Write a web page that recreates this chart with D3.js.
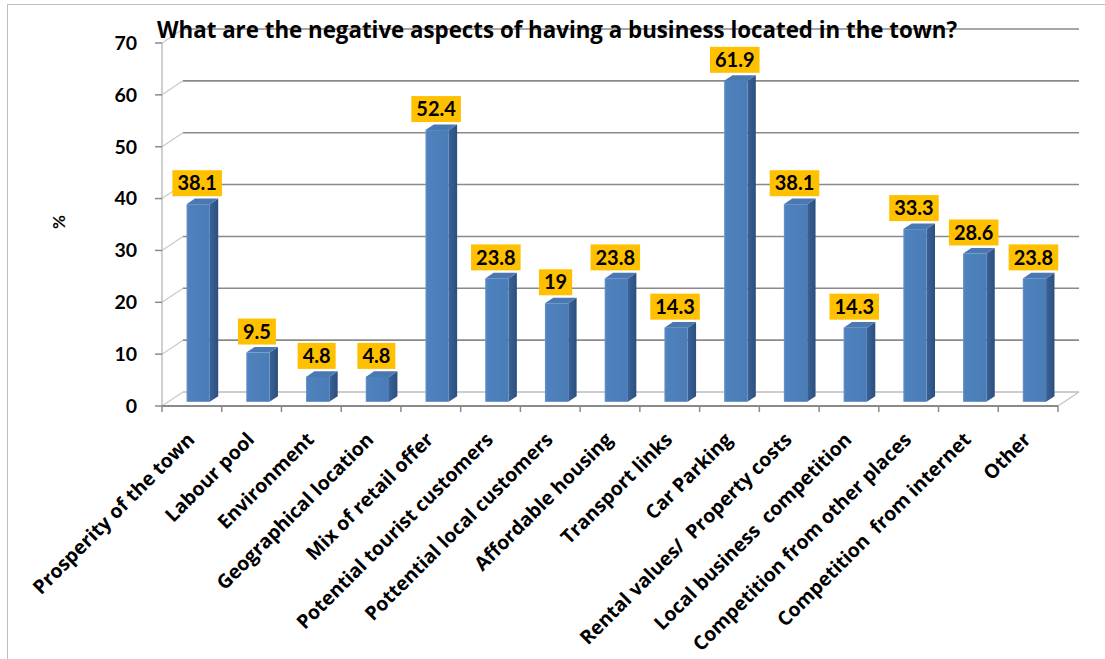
<!DOCTYPE html>
<html>
<head>
<meta charset="utf-8">
<script src="https://cdn.jsdelivr.net/npm/d3@7"></script>
<style>
  html, body { margin: 0; padding: 0; background: #ffffff; }
  svg { display: block; }
  text { font-family: Lato, "Open Sans", "DejaVu Sans", sans-serif; font-weight: bold; fill: #000; }
  text.wide { font-family: "Open Sans", Lato, "DejaVu Sans", sans-serif; }
</style>
</head>
<body>
<svg id="chart" width="1105" height="659"></svg>
<script>
// Survey responses: negative aspects of a town-centre business location (%)
const categories = [
  "Prosperity of the town",
  "Labour pool",
  "Environment",
  "Geographical location",
  "Mix of retail offer",
  "Potential tourist customers",
  "Pottential local customers",
  "Affordable housing",
  "Transport links",
  "Car Parking",
  "Rental values/  Property costs",
  "Local business  competition",
  "Competition from other places",
  "Competition  from internet",
  "Other"
];
const values = [38.1, 9.5, 4.8, 4.8, 52.4, 23.8, 19, 23.8, 14.3, 61.9, 38.1, 14.3, 33.3, 28.6, 23.8];
const yTicks = [0, 10, 20, 30, 40, 50, 60, 70];
const titleText = "What are the negative aspects of having a business located in the town?";
const yAxisTitle = "%";

const svg = d3.select("#chart");

// Plot geometry: front plane of the 3-D box plus the depth offset to the back wall
const front = { left: 162, right: 1058, bottom: 406, top: 43 };
const depth = { dx: 21, dy: -14 };

const x = d3.scaleBand().domain(categories).range([front.left, front.right]).padding(0);
const y = d3.scaleLinear().domain([0, 70]).range([front.bottom, front.top]);

// Outer chart frame
svg.append("rect")
  .attr("x", 7.5).attr("y", 4.5)
  .attr("width", 1110).attr("height", 670)
  .attr("fill", "none").attr("stroke", "#bfbfbf").attr("stroke-width", 1);

const defs = svg.append("defs");
const gFront = defs.append("linearGradient").attr("id", "barFront").attr("x1", 0).attr("x2", 1).attr("y1", 0).attr("y2", 0);
gFront.append("stop").attr("offset", "0%").attr("stop-color", "#6a95cc");
gFront.append("stop").attr("offset", "8%").attr("stop-color", "#4f81bd");
gFront.append("stop").attr("offset", "100%").attr("stop-color", "#4a7cb8");
const gSide = defs.append("linearGradient").attr("id", "barSide").attr("x1", 0).attr("x2", 1).attr("y1", 0).attr("y2", 0);
gSide.append("stop").attr("offset", "0%").attr("stop-color", "#3a6297");
gSide.append("stop").attr("offset", "100%").attr("stop-color", "#2c4f7e");

// Floor
const floor = svg.append("g");
floor.append("path")
  .attr("d", `M${front.left},${front.bottom} L${front.left + depth.dx},${front.bottom + depth.dy} L${front.right + depth.dx},${front.bottom + depth.dy} L${front.right},${front.bottom} Z`)
  .attr("fill", "#ffffff").attr("stroke", "none");

// Back-wall gridlines
const grid = svg.append("g");
grid.selectAll("line.grid")
  .data(yTicks.filter(d => d > 0))
  .join("line")
  .attr("class", "grid")
  .attr("x1", front.left + depth.dx).attr("x2", front.right + depth.dx)
  .attr("y1", d => y(d) + depth.dy).attr("y2", d => y(d) + depth.dy)
  .attr("stroke", "#8a8a8a").attr("stroke-width", 1.6);

// Back floor edge
grid.append("line")
  .attr("x1", front.left + depth.dx).attr("x2", front.right + depth.dx)
  .attr("y1", y(0) + depth.dy).attr("y2", y(0) + depth.dy)
  .attr("stroke", "#bdbdbd").attr("stroke-width", 1.4);

// Side-wall diagonals at each tick
grid.selectAll("line.diag")
  .data(yTicks)
  .join("line")
  .attr("class", "diag")
  .attr("x1", front.left).attr("y1", d => y(d))
  .attr("x2", front.left + depth.dx).attr("y2", d => y(d) + depth.dy)
  .attr("stroke", "#c8c8c8").attr("stroke-width", 1.2);

// Right floor edge
grid.append("line")
  .attr("x1", front.right).attr("y1", front.bottom)
  .attr("x2", front.right + depth.dx).attr("y2", front.bottom + depth.dy)
  .attr("stroke", "#c0c0c0").attr("stroke-width", 1.2);

// Vertical value axis line
svg.append("line")
  .attr("x1", front.left).attr("x2", front.left)
  .attr("y1", y(70)).attr("y2", y(0))
  .attr("stroke", "#bfbfbf").attr("stroke-width", 1.5);

// Value axis ticks and labels
const yAxis = svg.append("g");
yAxis.selectAll("line")
  .data(yTicks)
  .join("line")
  .attr("x1", front.left - 7).attr("x2", front.left)
  .attr("y1", d => y(d)).attr("y2", d => y(d))
  .attr("stroke", "#8a8a8a").attr("stroke-width", 1.5);
yAxis.selectAll("text")
  .data(yTicks)
  .join("text")
  .attr("x", 137).attr("y", d => y(d))
  .attr("dy", "0.35em")
  .attr("text-anchor", "end")
  .style("font-size", "19.5px")
  .text(d => d);

// Bars as 3-D columns sitting in the middle of the depth
const barW = x.bandwidth() * 0.39;
const off = { dx: depth.dx * 0.3, dy: depth.dy * 0.3 };
const bd = { dx: depth.dx * 0.4, dy: depth.dy * 0.4 };

const bars = svg.append("g").selectAll("g.bar")
  .data(categories.map((c, i) => ({ c, v: values[i] })))
  .join("g").attr("class", "bar");

bars.each(function(d) {
  const g = d3.select(this);
  const x0 = x(d.c) + (x.bandwidth() - barW) / 2 + off.dx;
  const x1 = x0 + barW;
  const yb = y(0) + off.dy;
  const yt = y(d.v) + off.dy;
  // side face
  g.append("path")
    .attr("d", `M${x1},${yt} L${x1 + bd.dx},${yt + bd.dy} L${x1 + bd.dx},${yb + bd.dy} L${x1},${yb} Z`)
    .attr("fill", "url(#barSide)");
  // top face
  g.append("path")
    .attr("d", `M${x0},${yt} L${x0 + bd.dx},${yt + bd.dy} L${x1 + bd.dx},${yt + bd.dy} L${x1},${yt} Z`)
    .attr("fill", "#4a78b3");
  // front face
  g.append("rect")
    .attr("x", x0).attr("y", yt)
    .attr("width", barW).attr("height", yb - yt)
    .attr("fill", "url(#barFront)");
});

// Front category axis with ticks at band edges
svg.append("line")
  .attr("x1", front.left).attr("x2", front.right)
  .attr("y1", front.bottom).attr("y2", front.bottom)
  .attr("stroke", "#8a8a8a").attr("stroke-width", 2);
svg.append("g").selectAll("line")
  .data(d3.range(categories.length + 1))
  .join("line")
  .attr("x1", i => front.left + i * x.step()).attr("x2", i => front.left + i * x.step())
  .attr("y1", front.bottom).attr("y2", front.bottom + 6)
  .attr("stroke", "#8a8a8a").attr("stroke-width", 1.5);

// Category labels, rotated
svg.append("g").selectAll("text")
  .data(categories)
  .join("text")
  .attr("class", "wide")
  .attr("transform", d => `translate(${x(d) + x.bandwidth() / 2 - 1},${436}) rotate(-45)`)
  .attr("text-anchor", "end")
  .attr("dy", "0.35em")
  .style("font-size", "19.5px")
  .style("white-space", "pre")
  .text(d => d);

// Value labels on orange boxes
const labels = svg.append("g").selectAll("g.lbl")
  .data(categories.map((c, i) => ({ c, v: values[i] })))
  .join("g").attr("class", "lbl");
labels.each(function(d) {
  const g = d3.select(this);
  const cx = x(d.c) + x.bandwidth() / 2 + off.dx - 1;
  const by = y(d.v) + off.dy - 8;
  const rect = g.append("rect").attr("fill", "#ffc000");
  const t = g.append("text")
    .attr("x", cx).attr("y", by - 13)
    .attr("dy", "0.36em")
    .attr("text-anchor", "middle")
    .style("font-size", "20px")
    .text(d.v);
  const w = t.node().getComputedTextLength() + 10;
  rect.attr("x", cx - w / 2).attr("y", by - 26).attr("width", w).attr("height", 26);
});

// Axis title
svg.append("text")
  .attr("transform", "translate(59,222) rotate(-90)")
  .attr("text-anchor", "middle")
  .attr("dy", "0.35em")
  .style("font-size", "17px")
  .text(yAxisTitle);

// Chart title
svg.append("text")
  .attr("class", "wide")
  .attr("x", 157).attr("y", 38)
  .style("font-size", "22.3px")
  .text(titleText);
</script>
</body>
</html>
